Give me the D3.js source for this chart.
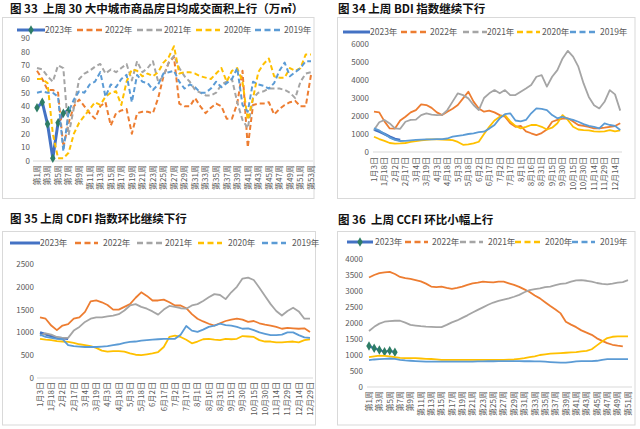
<!DOCTYPE html>
<html><head><meta charset="utf-8">
<script src="https://cdn.jsdelivr.net/npm/d3@7"></script>
<style>
body{margin:0;background:#fff;}
text{font-family:"Noto Sans CJK SC","Noto Sans",sans-serif;}
</style></head><body>
<script>
const width = 640, height = 429
const years = ["2023年", "2022年", "2021年", "2020年", "2019年"]
const colors = ["#4472C4", "#ED7D31", "#A5A5A5", "#FFC000", "#5B9BD5"]
const diamondColor = "#2E7D66"

// 图33 商品房日均成交面积 (万㎡), 第1周..第53周
const weekTicks53 = ["第1周","第3周","第5周","第7周","第9周","第11周","第13周","第15周","第17周","第19周","第21周","第23周","第25周","第27周","第29周","第31周","第33周","第35周","第37周","第39周","第41周","第43周","第45周","第47周","第49周","第51周","第53周"]
const house2023 = [39,43,27,2,28,35,37]
const house2022 = [66,60,52,52,50,10,28,40,45,40,35,31,40,43,26,35,37,38,20,35,36,36,35,46,62,72,76,42,40,40,46,40,35,39,42,40,31,31,42,66,10,41,42,42,43,34,38,41,43,44,40,40,63]
const house2021 = [68,67,62,58,70,68,19,39,60,64,66,69,71,64,67,65,68,71,59,73,65,68,73,58,62,72,77,68,62,58,52,50,48,48,50,56,58,60,43,30,24,46,50,51,53,53,53,52,50,46,58,64,65]
const house2020 = [60,60,57,20,2,2,6,20,28,33,38,43,41,47,50,51,41,58,67,66,62,64,62,65,72,76,84,64,65,65,64,62,61,60,64,68,58,66,68,58,30,46,65,71,75,62,61,61,68,66,68,78,78]
const house2019 = [50,51,50,50,47,7,36,45,51,50,56,58,65,47,56,54,60,63,43,63,58,57,52,56,64,65,66,58,53,56,54,50,50,53,58,54,57,60,68,41,36,58,56,55,53,57,66,72,62,65,68,73,73]

// 图34 BDI, one value per half label step
const bdiTicks = ["1月3日","1月18日","2月2日","2月17日","3月4日","3月19日","4月3日","4月18日","5月3日","5月18日","6月2日","6月17日","7月2日","7月17日","8月1日","8月16日","8月31日","9月15日","9月30日","10月15日","10月30日","11月14日","11月29日","12月14日"]
const bdi2023 = [1250,1130,1000,850,720,660]
const bdi2022 = [2240,2200,1700,1310,1300,1750,1960,2200,2330,2650,2610,2450,2200,2050,2240,2400,2610,2980,3350,2800,2420,2240,2300,2200,2050,1960,1600,1400,1450,1150,1040,940,1050,1250,1680,1780,1850,1870,1700,1500,1450,1400,1310,1310,1350,1400,1440,1600]
const bdi2021 = [1220,1650,1780,1590,1310,1290,1680,1780,1800,2050,2150,2080,2050,2060,2330,2800,3260,3160,2980,2610,2330,3000,3260,3440,3260,3440,3160,3160,3350,3530,3720,4180,4270,3630,4180,4550,5200,5620,5300,4740,3810,3060,2600,2420,2790,3440,3200,2300]
const bdi2020 = [850,720,620,500,470,480,500,560,600,650,680,700,700,690,680,660,560,400,420,480,570,1000,1400,1750,1960,2050,1700,1450,1310,1400,1500,1500,1400,1250,1350,1600,2050,1780,1400,1250,1220,1200,1150,1130,1150,1220,1150,1200]
const bdi2019 = [1310,1200,1000,800,670,610,620,650,670,690,700,700,710,720,750,850,900,940,1000,1040,1100,1130,1300,1500,1870,2100,2150,1750,1700,1780,2150,2420,2400,2330,2050,1870,1960,1850,1780,1680,1550,1450,1400,1310,1590,1500,1450,1220]

// 图35 CDFI
const cdfiTicks = bdiTicks.concat(["12月29日"])
const cdfi2023 = [1000,960,920,880,870,860]
const cdfi2022 = [1330,1300,1150,1050,1150,1180,1300,1330,1450,1680,1700,1660,1600,1500,1500,1560,1620,1760,1880,1800,1700,1700,1720,1660,1590,1590,1530,1400,1300,1240,1190,1150,1200,1250,1280,1300,1280,1230,1250,1200,1170,1150,1120,1080,1100,1090,1080,1090,1010]
const cdfi2021 = [930,980,950,900,880,880,1040,1120,1230,1300,1330,1330,1350,1370,1400,1480,1590,1620,1560,1520,1460,1390,1500,1580,1560,1530,1520,1590,1620,1690,1770,1840,1820,1730,1880,2000,2180,2200,2150,1980,1800,1620,1470,1370,1470,1540,1460,1300,1300]
const cdfi2020 = [860,840,830,810,800,790,770,740,720,700,660,600,580,590,590,580,540,510,500,520,540,570,680,900,930,900,840,760,800,850,860,840,830,860,850,860,920,910,900,830,800,800,780,780,790,800,780,830,850]
const cdfi2019 = [950,900,880,860,850,720,700,690,680,680,680,690,700,720,740,770,790,800,820,830,840,850,860,860,860,950,1140,1040,1010,1060,1120,1150,1190,1160,1150,1120,1080,1090,1050,1000,970,940,940,950,1000,1000,940,890,880]

// 图36 CCFI, 第1周..第51周
const weekTicks51 = weekTicks53.slice(0, 26)
const ccfi2023 = [1280,1210,1156,1103,1135,1084]
const ccfi2022 = [3420,3500,3560,3580,3600,3530,3440,3400,3380,3340,3300,3230,3140,3120,3135,3100,3070,3100,3135,3190,3240,3260,3290,3280,3270,3290,3290,3240,3190,3130,3050,2970,2860,2770,2650,2530,2420,2300,2040,1950,1870,1770,1700,1630,1520,1440,1370,1320,1290,1270]
const ccfi2021 = [1750,1880,1980,2040,2060,2070,2070,2010,1940,1920,1900,1885,1880,1870,1870,1940,2020,2080,2160,2240,2330,2410,2490,2570,2640,2690,2730,2770,2820,2880,2960,3030,3060,3080,3120,3140,3180,3220,3240,3290,3330,3340,3320,3290,3250,3220,3210,3230,3260,3280,3340]
const ccfi2020 = [930,960,980,970,960,930,910,900,900,900,890,880,875,865,850,845,845,845,845,845,845,845,845,845,845,845,850,855,860,880,900,930,960,1000,1020,1040,1050,1060,1070,1080,1090,1110,1130,1180,1300,1420,1530,1570,1580,1580,1580]
const ccfi2019 = [840,860,870,880,890,880,850,830,820,810,800,790,790,790,790,790,790,790,790,790,795,800,800,805,805,810,810,810,810,810,805,805,800,800,790,780,770,760,760,780,800,810,810,810,820,850,870,870,870,870,870]

const svg = d3.select("body").append("svg")
    .attr("width", width)
    .attr("height", height)

function drawPanel(p) {
    const g = svg.append("g")
    g.append("rect")
        .attr("x", p.box[0]).attr("y", p.box[1]).attr("width", p.box[2]).attr("height", p.box[3])
        .attr("fill", "#fff").attr("stroke", "#d9d9d9")
    g.append("text")
        .attr("x", p.titleX).attr("y", p.titleY)
        .attr("font-size", 11.5).attr("font-weight", "bold").attr("fill", "#111")
        .text(p.title.replace(/  /g, " \u00a0"))

    const x = d3.scaleLinear().domain(p.xDomain).range(p.xRange)
    const y = d3.scaleLinear().domain([0, p.yMax]).range([p.yRange[0], p.yRange[1]])

    // y axis, labels only
    const ya = g.append("g").attr("transform", `translate(${p.yLabelX},0)`)
        .call(d3.axisLeft(y).tickValues(d3.range(0, p.yMax + 1, p.yStep))
            .tickFormat(d3.format("d")).tickSize(0).tickPadding(0))
    ya.select(".domain").remove()
    ya.selectAll("text").attr("font-size", 8).attr("fill", "#595959")
        .style("font-family", "'Noto Sans CJK SC', sans-serif")

    // category axis line
    g.append("line")
        .attr("x1", p.axisX[0]).attr("x2", p.axisX[1])
        .attr("y1", y(0)).attr("y2", y(0))
        .attr("stroke", "#d9d9d9").attr("stroke-width", 1)

    g.selectAll(".xl").data(p.xTicks).enter().append("text")
        .attr("class", "xl")
        .attr("transform", (d, i) => `translate(${x(p.tickAt(i))},${p.labelTop}) rotate(-90)`)
        .attr("text-anchor", "end")
        .attr("dy", "0.35em")
        .attr("font-size", 8)
        .attr("fill", "#595959")
        .text(d => d)

    // series lines
    const line = d3.line().x(d => x(d.i)).y(d => y(d.v))
    p.series.forEach((s, si) => {
        const pts = s.map((v, j) => ({i: p.x0 + j, v}))
        g.append("path")
            .attr("d", line(pts))
            .attr("fill", "none")
            .attr("stroke", colors[si])
            .attr("stroke-width", si === 0 ? p.w0 : p.w)
            .attr("stroke-dasharray", si > 0 && p.dashed ? "5,3" : null)
            .attr("stroke-linejoin", "round")
        if (si === 0 && p.diamonds) {
            g.selectAll(".dm" + p.id).data(pts).enter().append("path")
                .attr("d", d3.symbol(d3.symbolDiamond, 26))
                .attr("transform", d => `translate(${x(d.i)},${y(d.v)})`)
                .attr("fill", diamondColor)
        }
    })

    // legend
    years.forEach((yr, i) => {
        const [a, b] = p.legend[i]
        g.append("line")
            .attr("x1", a).attr("x2", b).attr("y1", p.legendY).attr("y2", p.legendY)
            .attr("stroke", colors[i])
            .attr("stroke-width", i === 0 ? 3 : 2.5)
            .attr("stroke-dasharray", i === 0 ? null : "6,3.5")
        if (i === 0 && p.diamonds) {
            g.append("path").attr("d", d3.symbol(d3.symbolDiamond, 26))
                .attr("transform", `translate(${(a + b) / 2},${p.legendY})`)
                .attr("fill", diamondColor)
        }
        g.append("text")
            .attr("x", p.legendText[i]).attr("y", p.legendY + 3)
            .attr("font-size", 8.5).attr("fill", "#595959")
            .text(yr)
    })
}

drawPanel({
    id: "a", box: [2.5, 17.5, 311.5, 181], title: "图 33  上周 30 大中城市商品房日均成交面积上行（万㎡）", titleX: 10, titleY: 12.5,
    xDomain: [1, 53], xRange: [37, 311], x0: 1, tickAt: i => 1 + 2 * i, xTicks: weekTicks53,
    yMax: 90, yStep: 10, yRange: [161, 38], yLabelX: 30, axisX: [33, 313], labelTop: 165,
    series: [house2023, house2022, house2021, house2020, house2019], w0: 3, w: 2, dashed: true, diamonds: true,
    legendY: 30, legend: [[17, 45], [77, 102], [137, 162], [196, 220], [255, 281]], legendText: [45, 105, 164, 224, 284]
})

drawPanel({
    id: "b", box: [337.5, 17.5, 297.5, 181], title: "图 34 上周 BDI 指数继续下行", titleX: 338, titleY: 12.5,
    xDomain: [0, 46], xRange: [374, 615], x0: 0, tickAt: i => 2 * i, xTicks: bdiTicks,
    yMax: 6000, yStep: 1000, yRange: [152, 44], yLabelX: 369, axisX: [373, 622], labelTop: 157,
    series: [bdi2023, bdi2022, bdi2021, bdi2020, bdi2019], w0: 2.6, w: 1.8, dashed: false, diamonds: false,
    legendY: 32, legend: [[343, 370], [401, 427], [463, 487], [517, 540], [570, 596]], legendText: [370, 430, 487, 542, 600]
})

drawPanel({
    id: "c", box: [2.5, 231.5, 313, 193.5], title: "图 35 上周 CDFI 指数环比继续下行", titleX: 10, titleY: 223,
    xDomain: [0, 48], xRange: [40, 310], x0: 0, tickAt: i => 2 * i, xTicks: cdfiTicks,
    yMax: 2500, yStep: 500, yRange: [378, 264], yLabelX: 34, axisX: [37, 313], labelTop: 382,
    series: [cdfi2023, cdfi2022, cdfi2021, cdfi2020, cdfi2019], w0: 2.6, w: 1.8, dashed: false, diamonds: false,
    legendY: 243, legend: [[10, 40], [75, 98], [137, 162], [198, 222], [262, 286]], legendText: [40, 103, 165, 228, 292]
})

drawPanel({
    id: "d", box: [337.5, 231.5, 297.5, 193.5], title: "图 36  上周 CCFI 环比小幅上行", titleX: 338, titleY: 223.5,
    xDomain: [1, 51], xRange: [369, 628], x0: 1, tickAt: i => 1 + 2 * i, xTicks: weekTicks51,
    yMax: 4000, yStep: 500, yRange: [387, 259], yLabelX: 363, axisX: [367, 632], labelTop: 391,
    series: [ccfi2023, ccfi2022, ccfi2021, ccfi2020, ccfi2019], w0: 2, w: 1.8, dashed: false, diamonds: true,
    legendY: 242, legend: [[347, 373], [405, 428], [460, 483], [515, 540], [572, 595]], legendText: [375, 432, 488, 545, 600]
})
</script>
</body></html>
